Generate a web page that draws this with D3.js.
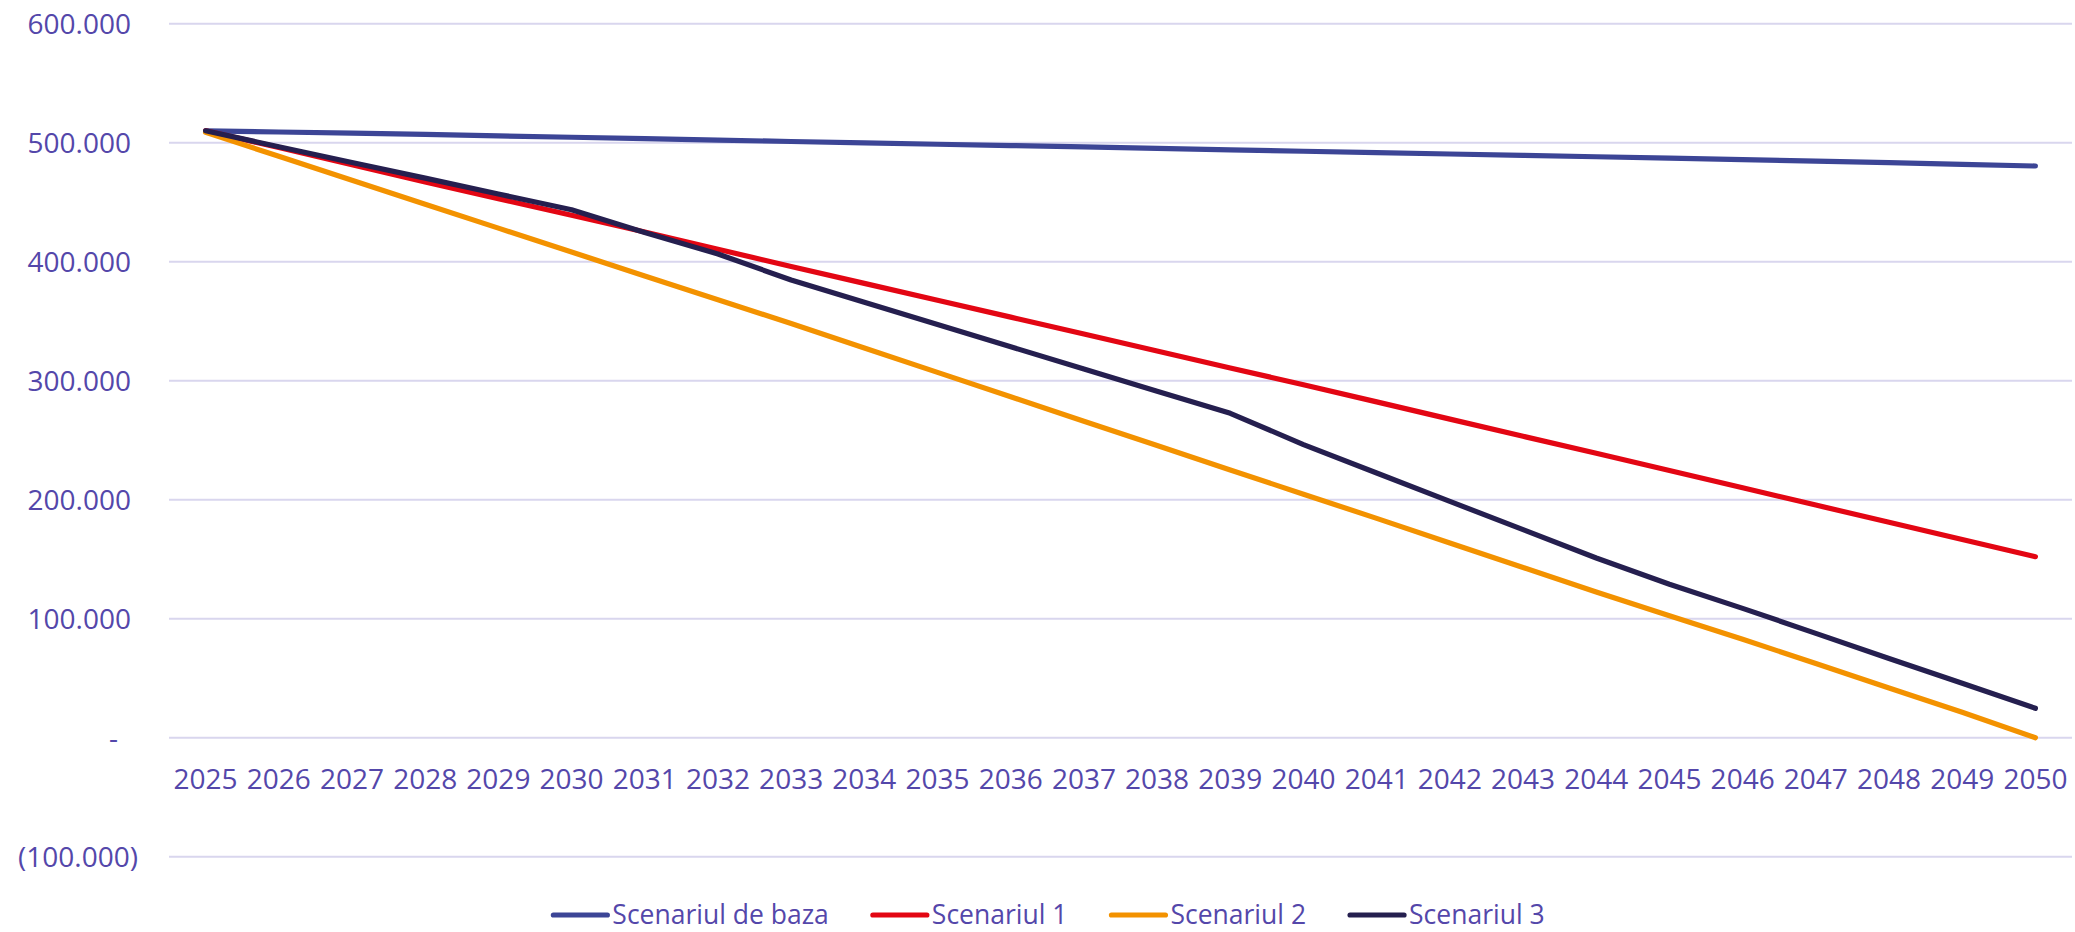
<!DOCTYPE html>
<html>
<head>
<meta charset="utf-8">
<script src="https://cdn.jsdelivr.net/npm/d3@7"></script>
<style>
  html, body { margin: 0; padding: 0; background: #ffffff; }
  svg { display: block; }
  text { font-family: "Open Sans", sans-serif; fill: #5447AA; }
</style>
</head>
<body>
<svg id="chart" width="2075" height="932"></svg>
<script>
const years = ["2025","2026","2027","2028","2029","2030","2031","2032","2033","2034","2035","2036","2037","2038","2039","2040","2041","2042","2043","2044","2045","2046","2047","2048","2049","2050"];

const seriesNames = ["Scenariul de baza", "Scenariul 1", "Scenariul 2", "Scenariul 3"];

const scenariulDeBaza = [510000, 509000, 508000, 507000, 505700, 504600, 503400, 502200, 501000, 499800, 498700, 497600, 496500, 495300, 494000, 492800, 491600, 490500, 489400, 488200, 487000, 485800, 484500, 483200, 481800, 480400];
const scenariul1 = [510000, 496000, 481500, 467000, 453000, 439000, 425000, 410500, 396000, 381800, 367600, 353400, 339200, 325000, 310700, 296600, 282200, 267700, 253300, 239000, 224500, 210100, 195500, 181000, 166600, 152100];
const scenariul2 = [508700, 488600, 468500, 448300, 428200, 408200, 388000, 368000, 348000, 327500, 307000, 286500, 266000, 245500, 225000, 204600, 184300, 163600, 143000, 122500, 102500, 82800, 62300, 41800, 21400, 0];
const scenariul3 = [510000, 496600, 483400, 470200, 456900, 443700, 424500, 406500, 384600, 365900, 347200, 328500, 309900, 291200, 272600, 246300, 222400, 198600, 174800, 151000, 129000, 108700, 87700, 66600, 45700, 24700];

const yTicks = [-100000, 0, 100000, 200000, 300000, 400000, 500000, 600000];

const colors = ["#3C4596", "#E30613", "#F39200", "#251F4F"];
const seriesValues = [scenariulDeBaza, scenariul1, scenariul2, scenariul3];

const svg = d3.select("#chart");

const x = d3.scaleBand().domain(years).range([169, 2072]);
const xc = d => x(d) + x.bandwidth() / 2;
const y = d3.scaleLinear().domain([-100000, 600000]).range([856.7, 23.7]);

// gridlines
svg.append("g").selectAll("line").data(yTicks).join("line")
  .attr("x1", 169).attr("x2", 2072)
  .attr("y1", d => y(d)).attr("y2", d => y(d))
  .attr("stroke", "#D9D6EE").attr("stroke-width", 2);

// y axis labels (accounting style)
const fmtNum = v => d3.format(",")(Math.abs(v)).replace(/,/g, ".");
const yLab = d => d === 0 ? "-" : (d < 0 ? "(" + fmtNum(d) + ")" : fmtNum(d));
const yAxis = d3.axisLeft(y).tickValues(yTicks).tickFormat(yLab).tickSize(0).tickPadding(0);
const gy = svg.append("g").attr("transform", "translate(138,0)").call(yAxis);
gy.select(".domain").remove();
gy.selectAll("text")
  .attr("font-size", 28)
  .attr("font-family", "Open Sans, sans-serif")
  .attr("fill", "#5447AA")
  .attr("dy", "0.34em")
  .attr("dx", d => d < 0 ? 0 : (d === 0 ? -20 : -7));

// x axis labels
const xAxis = d3.axisBottom(x).tickSize(0).tickPadding(0);
const gx = svg.append("g").attr("transform", "translate(0,760)").call(xAxis);
gx.select(".domain").remove();
gx.selectAll("text")
  .attr("font-size", 28)
  .attr("font-family", "Open Sans, sans-serif")
  .attr("fill", "#5447AA")
  .attr("dy", "1.05em");

// lines
const line = d3.line().x((d, i) => xc(years[i])).y(d => y(d));
svg.append("g").selectAll("path").data(seriesValues).join("path")
  .attr("d", d => line(d))
  .attr("fill", "none")
  .attr("stroke", (d, i) => colors[i])
  .attr("stroke-width", 5.2)
  .attr("stroke-linecap", "round")
  .attr("stroke-linejoin", "round");

// legend
const lg = svg.append("g");
const items = lg.selectAll("g").data(seriesNames).join("g");
items.append("line")
  .attr("x1", 0).attr("x2", 54).attr("y1", 915).attr("y2", 915)
  .attr("stroke", (d, i) => colors[i]).attr("stroke-width", 5.2).attr("stroke-linecap", "round");
items.append("text")
  .attr("x", 59).attr("y", 924)
  .attr("font-size", 26.5)
  .text(d => d);
let widths = [];
items.each(function() { widths.push(59 + d3.select(this).select("text").node().getComputedTextLength()); });
const gap = 44;
const total = d3.sum(widths) + gap * (widths.length - 1);
let cx = 1049 - total / 2;
items.attr("transform", (d, i) => {
  const t = "translate(" + cx + ",0)";
  cx += widths[i] + gap;
  return t;
});
</script>
</body>
</html>
